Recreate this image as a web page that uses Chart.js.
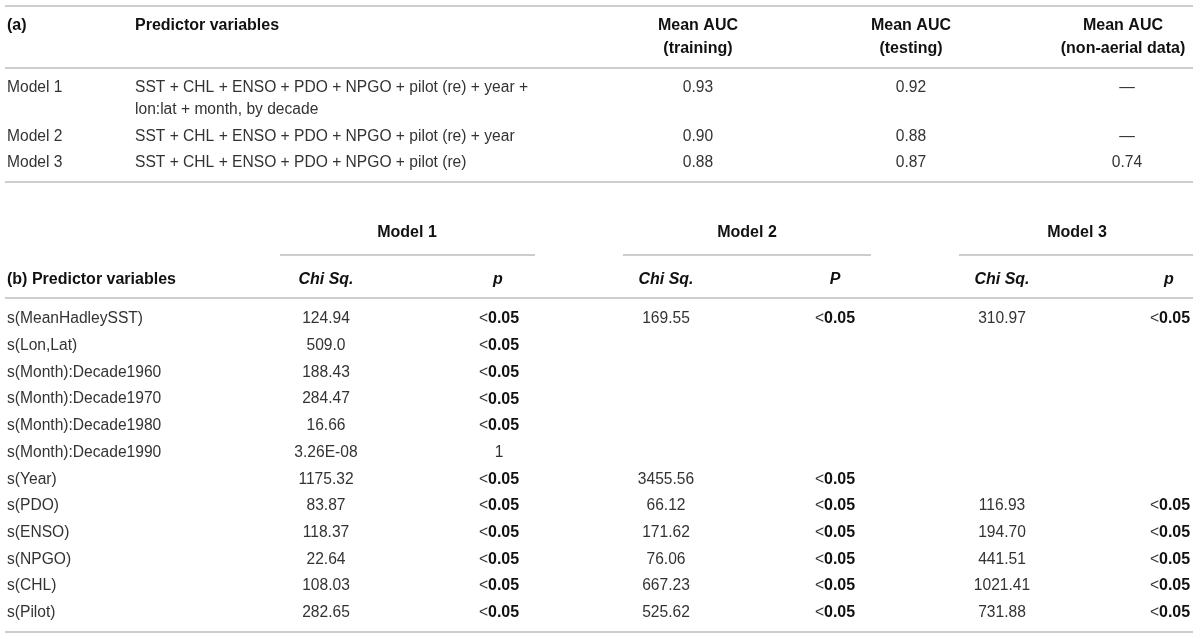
<!DOCTYPE html>
<html>
<head>
<meta charset="utf-8">
<script src="https://cdn.jsdelivr.net/npm/chart.js@4.4.1/dist/chart.umd.min.js"></script>
<style>
  html, body { margin: 0; padding: 0; background: #fff; }
  #wrap { position: relative; width: 1200px; height: 639px; }
</style>
</head>
<body>
<div id="wrap"><canvas id="tableChart"></canvas></div>
<script>
// Table (a)
const modelNames = ['Model 1', 'Model 2', 'Model 3'];
const predictorSets = [
    ['SST + CHL + ENSO + PDO + NPGO + pilot (re) + year +', 'lon:lat + month, by decade'],
    ['SST + CHL + ENSO + PDO + NPGO + pilot (re) + year'],
    ['SST + CHL + ENSO + PDO + NPGO + pilot (re)']
];
const aucTraining = ['0.93', '0.90', '0.88'];
const aucTesting = ['0.92', '0.88', '0.87'];
const aucNonAerial = ['—', '—', '0.74'];

// Table (b)
const predictors = ['s(MeanHadleySST)', 's(Lon,Lat)', 's(Month):Decade1960', 's(Month):Decade1970',
    's(Month):Decade1980', 's(Month):Decade1990', 's(Year)', 's(PDO)', 's(ENSO)', 's(NPGO)', 's(CHL)', 's(Pilot)'];
const chiSq1 = ['124.94', '509.0', '188.43', '284.47', '16.66', '3.26E-08', '1175.32', '83.87', '118.37', '22.64', '108.03', '282.65'];
const pVal1 = ['<0.05', '<0.05', '<0.05', '<0.05', '<0.05', '1', '<0.05', '<0.05', '<0.05', '<0.05', '<0.05', '<0.05'];
const chiSq2 = ['169.55', null, null, null, null, null, '3455.56', '66.12', '171.62', '76.06', '667.23', '525.62'];
const pVal2 = ['<0.05', null, null, null, null, null, '<0.05', '<0.05', '<0.05', '<0.05', '<0.05', '<0.05'];
const chiSq3 = ['310.97', null, null, null, null, null, null, '116.93', '194.70', '441.51', '1021.41', '731.88'];
const pVal3 = ['<0.05', null, null, null, null, null, null, '<0.05', '<0.05', '<0.05', '<0.05', '<0.05'];

// layout (pixel units of the hidden scales)
const FONT = '"Liberation Sans", Arial, sans-serif';
const SIZE = 15.6, BOLD_SIZE = 16;
const LEFT = 5, RIGHT = 1193;
const aRowY = [88, 137, 163];
const bRowY = predictors.map((_, i) => 319 + i * 26.7);
const RULE = '#cdcdcd';

const datasets = [];

function rule(x1, x2, y, color) {
    datasets.push({
        data: [{ x: x1, y: y }, { x: x2, y: y }],
        showLine: true,
        borderColor: color || RULE,
        borderWidth: 2,
        pointRadius: 0
    });
}

function cells(texts, x, ys, align, style) {
    const data = [], labels = [];
    texts.forEach((t, i) => {
        if (t == null) return;
        data.push({ x: x, y: ys[i] });
        labels.push(t);
    });
    datasets.push({ data: data, cellText: labels, cellAlign: align, cellStyle: style || 'normal', pointRadius: 0, showLine: false });
}

// rules
rule(LEFT, RIGHT, 6);
rule(LEFT, RIGHT, 68);
rule(LEFT, RIGHT, 182);
rule(280, 535, 255);
rule(623, 871, 255);
rule(959, RIGHT, 255);
rule(LEFT, RIGHT, 298);
rule(LEFT, RIGHT, 632);

// table (a) header
cells(['(a)'], 7, [26], 'left', 'bold');
cells(['Predictor variables'], 135, [26], 'left', 'bold');
cells(['Mean AUC', '(training)'], 698, [26, 49], 'center', 'bold');
cells(['Mean AUC', '(testing)'], 911, [26, 49], 'center', 'bold');
cells(['Mean AUC', '(non-aerial data)'], 1123, [26, 49], 'center', 'bold');

// table (a) body
cells(modelNames, 7, aRowY, 'left');
predictorSets.forEach((lines, i) => {
    cells(lines, 135, lines.map((_, k) => aRowY[i] + k * 22), 'left');
});
cells(aucTraining, 698, aRowY, 'center');
cells(aucTesting, 911, aRowY, 'center');
cells(aucNonAerial, 1127, aRowY, 'center');

// table (b) header
cells(['Model 1'], 407, [233], 'center', 'bold');
cells(['Model 2'], 747, [233], 'center', 'bold');
cells(['Model 3'], 1077, [233], 'center', 'bold');
cells(['(b) Predictor variables'], 7, [280], 'left', 'bold');
cells(['Chi Sq.'], 326, [280], 'center', 'bolditalic');
cells(['p'], 498, [280], 'center', 'bolditalic');
cells(['Chi Sq.'], 666, [280], 'center', 'bolditalic');
cells(['P'], 835, [280], 'center', 'bolditalic');
cells(['Chi Sq.'], 1002, [280], 'center', 'bolditalic');
cells(['p'], 1169, [280], 'center', 'bolditalic');

// table (b) body
cells(predictors, 7, bRowY, 'left');
cells(chiSq1, 326, bRowY, 'center');
cells(pVal1, 499, bRowY, 'center', 'pval');
cells(chiSq2, 666, bRowY, 'center');
cells(pVal2, 835, bRowY, 'center', 'pval');
cells(chiSq3, 1002, bRowY, 'center');
cells(pVal3, 1170, bRowY, 'center', 'pval');

const fontFor = {
    normal: SIZE + 'px ' + FONT,
    bold: 'bold ' + BOLD_SIZE + 'px ' + FONT,
    bolditalic: 'italic bold ' + BOLD_SIZE + 'px ' + FONT
};

// draws the cell text at each point the scales placed
const cellTextPlugin = {
    id: 'cellText',
    afterDatasetsDraw(chart) {
        const ctx = chart.ctx;
        ctx.save();
        ctx.textBaseline = 'middle';
        chart.data.datasets.forEach((ds, di) => {
            if (!ds.cellText) return;
            const meta = chart.getDatasetMeta(di);
            meta.data.forEach((pt, j) => {
                const t = ds.cellText[j];
                if (ds.cellStyle === 'pval' && t.charAt(0) === '<') {
                    // "<" regular, number bold
                    ctx.font = fontFor.normal;
                    const w1 = ctx.measureText('<').width;
                    ctx.font = fontFor.bold;
                    const w2 = ctx.measureText(t.slice(1)).width;
                    const x0 = pt.x - (w1 + w2) / 2;
                    ctx.textAlign = 'left';
                    ctx.fillStyle = '#333';
                    ctx.font = fontFor.normal;
                    ctx.fillText('<', x0, pt.y);
                    ctx.fillStyle = '#111';
                    ctx.font = fontFor.bold;
                    ctx.fillText(t.slice(1), x0 + w1, pt.y);
                    return;
                }
                const style = ds.cellStyle === 'pval' ? 'normal' : ds.cellStyle;
                ctx.font = fontFor[style];
                ctx.fillStyle = style === 'normal' ? '#333' : '#111';
                ctx.textAlign = ds.cellAlign;
                ctx.fillText(t, pt.x, pt.y);
            });
        });
        ctx.restore();
    }
};

new Chart(document.getElementById('tableChart'), {
    type: 'scatter',
    data: { datasets: datasets },
    options: {
        responsive: true,
        maintainAspectRatio: false,
        animation: false,
        layout: { padding: 0 },
        plugins: { legend: { display: false }, tooltip: { enabled: false } },
        scales: {
            x: { type: 'linear', min: 0, max: 1200, display: false },
            y: { type: 'linear', min: 0, max: 639, reverse: true, display: false }
        }
    },
    plugins: [cellTextPlugin]
});
</script>
</body>
</html>
